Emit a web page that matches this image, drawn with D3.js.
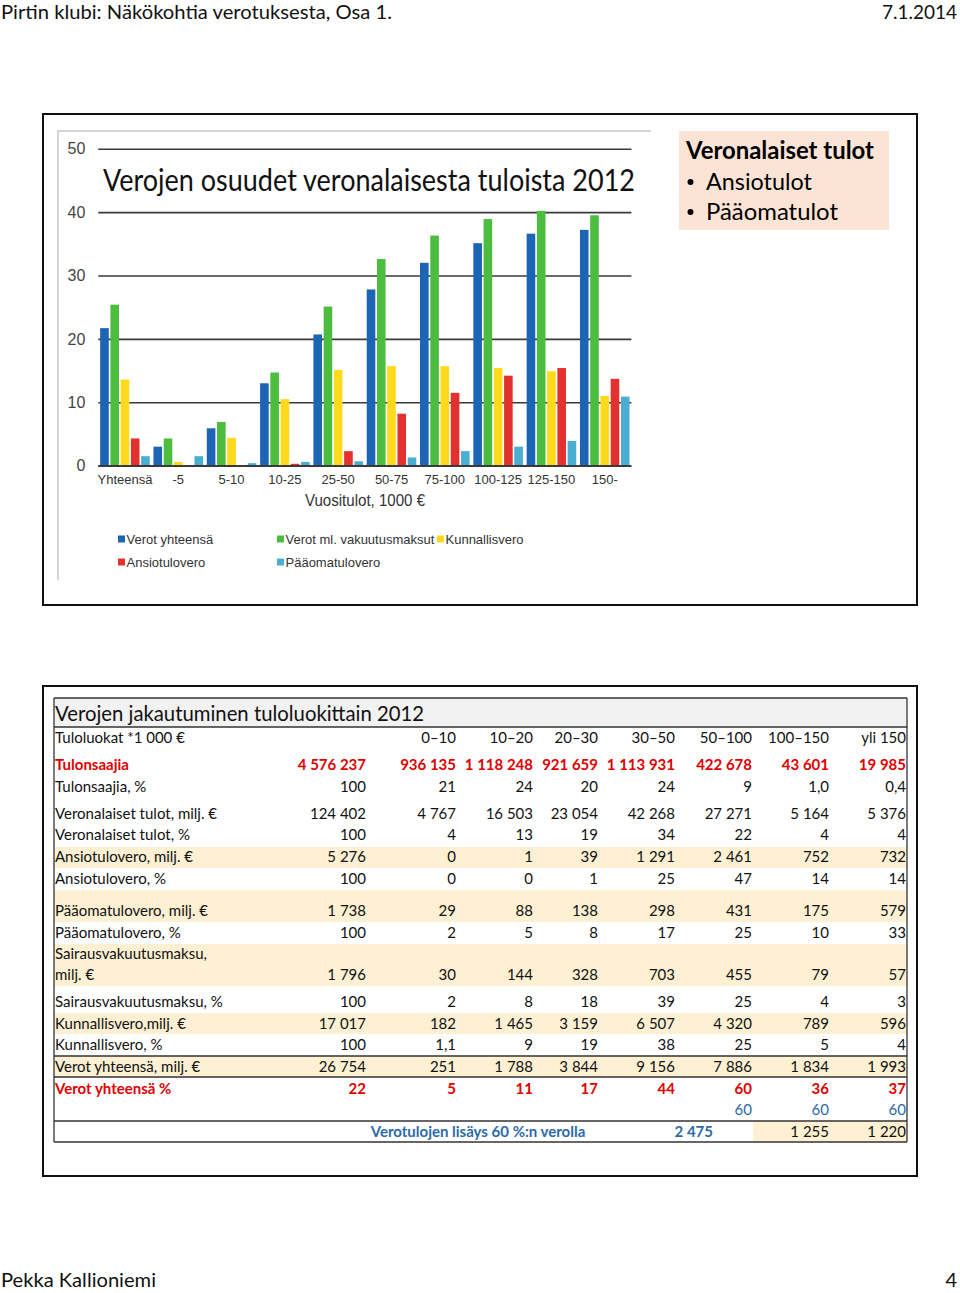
<!DOCTYPE html>
<html><head><meta charset="utf-8">
<script src="https://cdn.jsdelivr.net/npm/d3@7"></script>
<style>body{margin:0;background:#fff}svg{display:block}</style>
</head><body><svg id="c" width="960" height="1293"></svg>
<script>
// ---------- chart data ----------
const categories = ["Yhteensä","-5","5-10","10-25","25-50","50-75","75-100","100-125","125-150","150-"];
const seriesNames = ["Verot yhteensä","Verot ml. vakuutusmaksut","Kunnallisvero","Ansiotulovero","Pääomatulovero"];
const osuusVerotYhteensa   = [21.7, 3.0, 5.9, 13.0, 20.7, 27.8, 32.0, 35.1, 36.6, 37.2];
const osuusVerotMlVakuutus = [25.4, 4.3, 6.9, 14.7, 25.1, 32.6, 36.3, 38.9, 40.2, 39.5];
const osuusKunnallisvero   = [13.6, 0.6, 4.4, 10.5, 15.1, 15.7, 15.7, 15.4, 14.9, 11.0];
const osuusAnsiotulovero   = [4.3, 0, 0, 0.3, 2.3, 8.2, 11.5, 14.2, 15.4, 13.7];
const osuusPaaomatulovero  = [1.5, 1.5, 0.4, 0.6, 0.7, 1.3, 2.3, 3.0, 3.9, 10.9];
const yTicks = [0,10,20,30,40,50];

// ---------- table data ----------
const tableCols = ["0–10","10–20","20–30","30–50","50–100","100–150","yli 150"];
const tulonsaajia = ["4 576 237","936 135","1 118 248","921 659","1 113 931","422 678","43 601","19 985"];
const tulonsaajiaPct = ["100","21","24","20","24","9","1,0","0,4"];
const veronalaisetTulot = ["124 402","4 767","16 503","23 054","42 268","27 271","5 164","5 376"];
const veronalaisetTulotPct = ["100","4","13","19","34","22","4","4"];
const ansiotuloveroMilj = ["5 276","0","1","39","1 291","2 461","752","732"];
const ansiotuloveroPct = ["100","0","0","1","25","47","14","14"];
const paaomatuloveroMilj = ["1 738","29","88","138","298","431","175","579"];
const paaomatuloveroPct = ["100","2","5","8","17","25","10","33"];
const sairausMilj = ["1 796","30","144","328","703","455","79","57"];
const sairausPct = ["100","2","8","18","39","25","4","3"];
const kunnallisveroMilj = ["17 017","182","1 465","3 159","6 507","4 320","789","596"];
const kunnallisveroPct = ["100","1,1","9","19","38","25","5","4"];
const verotYhteensaMilj = ["26 754","251","1 788","3 844","9 156","7 886","1 834","1 993"];
const verotYhteensaPct = ["22","5","11","17","44","60","36","37"];
const vero60 = ["","","","","","60","60","60"];
const lisaysLabel = "Verotulojen lisäys 60 %:n verolla";
const lisaysValues = ["2 475","1 255","1 220"];

// ---------- setup ----------
const svg = d3.select("#c");
const nb = s => s.replace(/ /g,"\u00a0");
function fit(t,w){ t.attr("textLength",w).attr("lengthAdjust","spacingAndGlyphs"); return t; }
const CAL = "Lato, 'Open Sans', sans-serif";
const ARI = "'Liberation Sans', Arial, sans-serif";

svg.append("rect").attr("width",960).attr("height",1293).attr("fill","#fff");

// header / footer
fit(svg.append("text").attr("x",1).attr("y",19).attr("font-family",CAL).attr("font-size",20).attr("fill","#111")
  .text("Pirtin klubi: Näkökohtia verotuksesta, Osa 1."),391);
fit(svg.append("text").attr("x",882).attr("y",19).attr("font-family",CAL).attr("font-size",20).attr("fill","#111")
  .text("7.1.2014"),75);
fit(svg.append("text").attr("x",1).attr("y",1287).attr("font-family",CAL).attr("font-size",20).attr("fill","#111")
  .text("Pekka Kallioniemi"),155);
svg.append("text").attr("x",957).attr("y",1287).attr("text-anchor","end").attr("font-family",CAL).attr("font-size",20).attr("fill","#111").text("4");

// ---------- panel 1 ----------
svg.append("rect").attr("x",43).attr("y",114).attr("width",874).attr("height",491)
  .attr("fill","none").attr("stroke","#111").attr("stroke-width",2);
svg.append("path").attr("d","M58,580V131H651").attr("fill","none").attr("stroke","#c8c8c8").attr("stroke-width",1.5);

const x0 = d3.scaleBand().domain(categories).range([98.3,631.4]).paddingInner(0.07).paddingOuter(0.035);
const x1 = d3.scaleBand().domain(seriesNames).range([0,x0.bandwidth()]).paddingInner(0.16);
const y = d3.scaleLinear().domain([0,50]).range([465.7,148.7]);
const colors = d3.scaleOrdinal().domain(seriesNames).range(["#1c64b4","#4dbd40","#ffd91c","#e2312f","#4aaed0"]);
const seriesData = [osuusVerotYhteensa,osuusVerotMlVakuutus,osuusKunnallisvero,osuusAnsiotulovero,osuusPaaomatulovero];

// gridlines + y labels
const yAxis = d3.axisLeft(y).tickValues(yTicks).tickSize(-(631.4-98.3)).tickPadding(13);
const ga = svg.append("g").attr("transform","translate(98.3,0)").call(yAxis);
ga.select(".domain").remove();
ga.selectAll(".tick line").attr("stroke","#3a3a3a").attr("stroke-width",1.6);
ga.selectAll(".tick text").attr("font-family",ARI).attr("font-size",16).attr("fill","#444");

// bars
const groups = svg.append("g").selectAll("g").data(categories).join("g")
  .attr("transform",d=>`translate(${x0(d)},0)`);
groups.selectAll("rect").data((c,i)=>seriesNames.map((s,k)=>({s,v:seriesData[k][i]}))).join("rect")
  .attr("x",d=>x1(d.s)).attr("width",x1.bandwidth())
  .attr("y",d=>y(d.v)).attr("height",d=>y(0)-y(d.v)).attr("fill",d=>colors(d.s));

// baseline redraw
svg.append("line").attr("x1",98.3).attr("x2",631.4).attr("y1",y(0)).attr("y2",y(0)).attr("stroke","#3a3a3a").attr("stroke-width",1.6);

// x labels
const xAxis = d3.axisBottom(x0).tickSize(0).tickPadding(9);
const gx = svg.append("g").attr("transform",`translate(0,${y(0)})`).call(xAxis);
gx.select(".domain").remove();
gx.selectAll("text").attr("font-family",ARI).attr("font-size",13).attr("fill","#333");

fit(svg.append("text").attr("x",305).attr("y",506).attr("font-family",ARI).attr("font-size",16).attr("fill","#333")
  .text("Vuositulot, 1000 €"),120);

// chart title
fit(svg.append("text").attr("x",103).attr("y",191).attr("font-family",CAL).attr("font-size",30).attr("fill","#111")
  .text("Verojen osuudet veronalaisesta tuloista 2012"),532);

// legend
const legendPos = [[118,539],[277,539],[437,539],[118,562],[277,562]];
const lg = svg.append("g").selectAll("g").data(seriesNames).join("g")
  .attr("transform",(d,i)=>`translate(${legendPos[i][0]},${legendPos[i][1]})`);
lg.append("rect").attr("x",0).attr("y",-3.5).attr("width",7).attr("height",7).attr("fill",d=>colors(d));
lg.append("text").attr("x",8.5).attr("y",4.5).attr("font-family",ARI).attr("font-size",13).attr("fill","#333").text(d=>d);

// side box
svg.append("rect").attr("x",679).attr("y",131).attr("width",210).attr("height",99).attr("fill","#fbe4d6");
fit(svg.append("text").attr("x",686).attr("y",159).attr("font-family",CAL).attr("font-weight","bold").attr("font-size",24).attr("fill","#000")
  .text("Veronalaiset tulot"),188);
[["Ansiotulot",190,106],["Pääomatulot",220,132]].forEach(([t,yy,w])=>{
  svg.append("circle").attr("cx",690.5).attr("cy",yy-8).attr("r",3).attr("fill","#000");
  fit(svg.append("text").attr("x",706).attr("y",yy).attr("font-family",CAL).attr("font-size",24).attr("fill","#000").text(t),w);
});

// ---------- panel 2 : table ----------
svg.append("rect").attr("x",43).attr("y",686).attr("width",874).attr("height",490)
  .attr("fill","none").attr("stroke","#111").attr("stroke-width",2);

const TL = 54, TR = 907;
const hl = "#fdf0d3";
svg.append("rect").attr("x",TL).attr("y",698).attr("width",TR-TL).attr("height",29).attr("fill","#f2f2f2");
[[847,868],[890,922],[944,986],[1013,1034],[1056,1077]].forEach(([a,b])=>
  svg.append("rect").attr("x",TL).attr("y",a).attr("width",TR-TL).attr("height",b-a).attr("fill",hl));
svg.append("rect").attr("x",753).attr("y",1121).attr("width",TR-753).attr("height",21).attr("fill",hl);

const lineC = "#333";
[698,727,1056,1077,1121,1142].forEach(yy=>
  svg.append("line").attr("x1",TL).attr("x2",TR).attr("y1",yy).attr("y2",yy).attr("stroke",lineC).attr("stroke-width",1.3));
[TL,TR].forEach(xx=>
  svg.append("line").attr("x1",xx).attr("x2",xx).attr("y1",698).attr("y2",1142).attr("stroke",lineC).attr("stroke-width",1.3));

fit(svg.append("text").attr("x",55).attr("y",721).attr("font-family",CAL).attr("font-size",22).attr("fill","#111")
  .text("Verojen jakautuminen tuloluokittain 2012"),369);

const colX = [366,456,533,598,675,752,829,906];
const FS = 15;
const red = "#e00000", blue = "#2e6aa8";
const tg = svg.append("g").attr("font-family",CAL).attr("font-size",FS);

function row(label, vals, cy, opts={}){
  const col = opts.color || "#111", w = opts.bold ? "bold" : "normal";
  if(label) tg.append("text").attr("x",55).attr("y",cy+5).attr("fill",col).attr("font-weight",w).text(label);
  vals.forEach((v,i)=>{ if(v!=="") tg.append("text").attr("x",colX[i]).attr("y",cy+5).attr("text-anchor","end")
    .attr("fill",opts.vcolor||col).attr("font-weight",opts.vbold===undefined?w:opts.vbold).text(nb(v)); });
}
row("Tuloluokat *1 000 €", [""].concat(tableCols), 738);
row("Tulonsaajia", tulonsaajia, 765, {color:red,bold:true});
row("Tulonsaajia, %", tulonsaajiaPct, 787);
row("Veronalaiset tulot, milj. €", veronalaisetTulot, 814);
row("Veronalaiset tulot, %", veronalaisetTulotPct, 835);
row("Ansiotulovero, milj. €", ansiotuloveroMilj, 857);
row("Ansiotulovero, %", ansiotuloveroPct, 879);
row("Pääomatulovero, milj. €", paaomatuloveroMilj, 911);
row("Pääomatulovero, %", paaomatuloveroPct, 933);
row("Sairausvakuutusmaksu,", [], 954);
row("milj. €", sairausMilj, 975);
row("Sairausvakuutusmaksu, %", sairausPct, 1002);
row("Kunnallisvero,milj. €", kunnallisveroMilj, 1024);
row("Kunnallisvero, %", kunnallisveroPct, 1045);
row("Verot yhteensä, milj. €", verotYhteensaMilj, 1067);
row("Verot yhteensä %", verotYhteensaPct, 1089, {color:red,bold:true});
row("", vero60, 1110, {color:blue});
tg.append("text").attr("x",478).attr("y",1137).attr("text-anchor","middle").attr("fill",blue).attr("font-weight","bold").text(lisaysLabel);
[[713,blue,"bold"],[829,"#111","normal"],[906,"#111","normal"]].forEach(([xx,c,w],i)=>
  tg.append("text").attr("x",xx).attr("y",1137).attr("text-anchor","end").attr("fill",c).attr("font-weight",w).text(nb(lisaysValues[i])));
</script></body></html>
